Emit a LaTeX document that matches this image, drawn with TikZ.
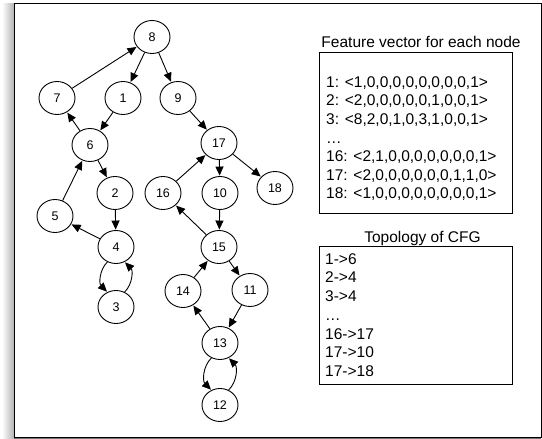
\documentclass[tikz,border=0pt]{standalone}
\usepackage{fontspec}
\setmainfont{Liberation Sans}
\usetikzlibrary{shapes.geometric,arrows.meta,shadings}
\begin{document}
\begin{tikzpicture}[x=1pt,y=-1pt,
  vtx/.style={draw,ellipse,line width=0.9pt,minimum width=36pt,minimum height=33pt,
    inner sep=0pt,font=\fontsize{12.5}{14}\selectfont},
  edge/.style={line width=0.9pt,-{Triangle[length=9pt,width=8pt]},shorten >=0.5pt},
  listline/.style={anchor=base west,inner sep=0pt,font=\fontsize{15.5}{18.6}\selectfont},
  boxtitle/.style={anchor=base,inner sep=0pt,font=\fontsize{15.5}{18.6}\selectfont},
  panel/.style={draw,line width=0.9pt}]
\useasboundingbox (0,0) rectangle (542,439);

% outer frame with a soft shadow on its left side
\shade[left color=white,right color=black!30] (2,3) rectangle (14,439);
\fill[black!55] (14,436) rectangle (541,439);
\draw[line width=0.9pt,fill=white] (14,3) rectangle (541,437);

% control flow graph
\node[vtx] (n8)  at (152,37)  {8};
\node[vtx] (n7)  at (57,98)   {7};
\node[vtx] (n1)  at (123,98)  {1};
\node[vtx] (n9)  at (178,98)  {9};
\node[vtx] (n6)  at (90,145)  {6};
\node[vtx] (n17) at (219,143) {17};
\node[vtx] (n2)  at (115,193) {2};
\node[vtx] (n16) at (163,193) {16};
\node[vtx] (n10) at (220,193) {10};
\node[vtx] (n18) at (275,188) {18};
\node[vtx] (n5)  at (55,216)  {5};
\node[vtx] (n4)  at (116,247) {4};
\node[vtx] (n3)  at (116,307) {3};
\node[vtx] (n15) at (219,247) {15};
\node[vtx] (n14) at (183,291) {14};
\node[vtx] (n11) at (250,290) {11};
\node[vtx] (n13) at (220,343) {13};
\node[vtx] (n12) at (220,405) {12};

\draw[edge] (n7) -- (n8);
\draw[edge] (n8) -- (n1);
\draw[edge] (n8) -- (n9);
\draw[edge] (n1) -- (n6);
\draw[edge] (n6) -- (n7);
\draw[edge] (n6) -- (n2);
\draw[edge] (n5) -- (n6);
\draw[edge] (n2) -- (n4);
\draw[edge] (n4) -- (n5);
\draw[edge] (n4.240) to[bend right=45] (n3.120);
\draw[edge] (n3.60) to[bend right=45] (n4.300);
\draw[edge] (n9) -- (n17);
\draw[edge] (n17) -- (n10);
\draw[edge] (n17) -- (n18);
\draw[edge] (n16) -- (n17);
\draw[edge] (n10) -- (n15);
\draw[edge] (n15) -- (n16);
\draw[edge] (n15) -- (n11);
\draw[edge] (n14) -- (n15);
\draw[edge] (n11) -- (n13);
\draw[edge] (n13) -- (n14);
\draw[edge] (n13.240) to[bend right=45] (n12.120);
\draw[edge] (n12.60) to[bend right=45] (n13.300);

% feature vectors
\node[boxtitle] (fvtitle) at (421,47.5) {Feature vector for each node};
\draw[panel] (319,52) rectangle (512,213);
\node[listline] (fv1) at (326,87.2)  {1: <1,0,0,0,0,0,0,0,0,1>};
\node[listline] (fv2) at (326,105.8) {2: <2,0,0,0,0,0,1,0,0,1>};
\node[listline] (fv3) at (326,124.4) {3: <8,2,0,1,0,3,1,0,0,1>};
\node[listline] (fv4) at (326,143)   {\dots};
\node[listline] (fv5) at (326,161.6) {16: <2,1,0,0,0,0,0,0,0,1>};
\node[listline] (fv6) at (326,180.2) {17: <2,0,0,0,0,0,0,1,1,0>};
\node[listline] (fv7) at (326,198.8) {18: <1,0,0,0,0,0,0,0,0,1>};

% graph topology
\node[boxtitle] (tptitle) at (422.5,242) {Topology of CFG};
\draw[panel] (319,246) rectangle (512,384);
\node[listline] (tp1) at (325,264.2) {1->6};
\node[listline] (tp2) at (325,282.9) {2->4};
\node[listline] (tp3) at (325,301.6) {3->4};
\node[listline] (tp4) at (325,320.3) {\dots};
\node[listline] (tp5) at (325,339)   {16->17};
\node[listline] (tp6) at (325,357.7) {17->10};
\node[listline] (tp7) at (325,376.4) {17->18};
\end{tikzpicture}
\end{document}
